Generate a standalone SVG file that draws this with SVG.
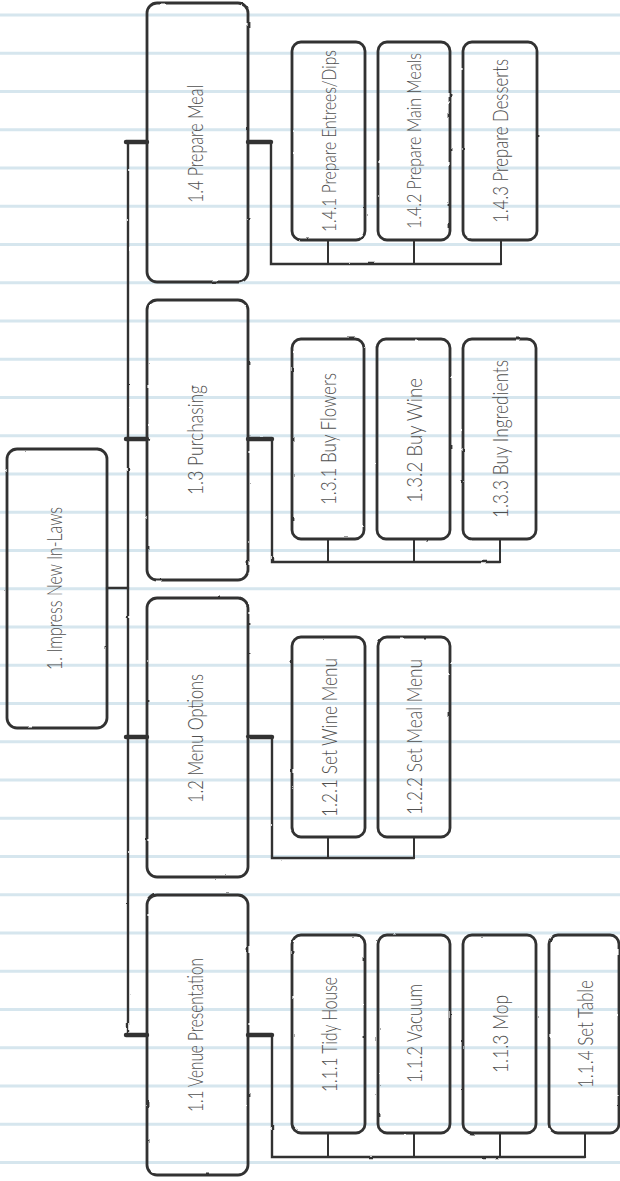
<svg xmlns="http://www.w3.org/2000/svg" width="620" height="1181" viewBox="0 0 620 1181">
  <defs>
    <!-- pencil-like wobble for outlines and connectors -->
    <filter id="rough" x="-5%" y="-5%" width="110%" height="110%">
      <feTurbulence type="fractalNoise" baseFrequency="0.09" numOctaves="2" seed="3" result="n"/>
      <feDisplacementMap in="SourceGraphic" in2="n" scale="1.8" xChannelSelector="R" yChannelSelector="G"/>
    </filter>
    <style>
      .ruled line { stroke: #d6e6ee; stroke-width: 3; }
      .box { fill: none; stroke: #333; stroke-width: 2.8; }
      .lbl { font-family: Lato, "Liberation Sans", sans-serif; font-weight: 300; font-size: 22px; fill: #505050; text-anchor: middle; }
      .lbl.long { font-size: 19px; }
      .bus { fill: none; stroke: #333; stroke-width: 2.4; stroke-linecap: round; }
      .stub { fill: none; stroke: #333; stroke-width: 4.4; stroke-linecap: round; }
      .drop { fill: none; stroke: #333; stroke-width: 2; }
    </style>
  </defs>

  <rect width="620" height="1181" fill="#fff"/>

  <!-- ruled paper -->
  <g class="ruled">
    <line x1="0" y1="15" x2="620" y2="15"/>
    <line x1="0" y1="53.25" x2="620" y2="53.25"/>
    <line x1="0" y1="91.5" x2="620" y2="91.5"/>
    <line x1="0" y1="129.75" x2="620" y2="129.75"/>
    <line x1="0" y1="168" x2="620" y2="168"/>
    <line x1="0" y1="206.25" x2="620" y2="206.25"/>
    <line x1="0" y1="244.5" x2="620" y2="244.5"/>
    <line x1="0" y1="282.75" x2="620" y2="282.75"/>
    <line x1="0" y1="321" x2="620" y2="321"/>
    <line x1="0" y1="359.25" x2="620" y2="359.25"/>
    <line x1="0" y1="397.5" x2="620" y2="397.5"/>
    <line x1="0" y1="435.75" x2="620" y2="435.75"/>
    <line x1="0" y1="474" x2="620" y2="474"/>
    <line x1="0" y1="512.25" x2="620" y2="512.25"/>
    <line x1="0" y1="550.5" x2="620" y2="550.5"/>
    <line x1="0" y1="588.75" x2="620" y2="588.75"/>
    <line x1="0" y1="627" x2="620" y2="627"/>
    <line x1="0" y1="665.25" x2="620" y2="665.25"/>
    <line x1="0" y1="703.5" x2="620" y2="703.5"/>
    <line x1="0" y1="741.75" x2="620" y2="741.75"/>
    <line x1="0" y1="780" x2="620" y2="780"/>
    <line x1="0" y1="818.25" x2="620" y2="818.25"/>
    <line x1="0" y1="856.5" x2="620" y2="856.5"/>
    <line x1="0" y1="894.75" x2="620" y2="894.75"/>
    <line x1="0" y1="933" x2="620" y2="933"/>
    <line x1="0" y1="971.25" x2="620" y2="971.25"/>
    <line x1="0" y1="1009.5" x2="620" y2="1009.5"/>
    <line x1="0" y1="1047.75" x2="620" y2="1047.75"/>
    <line x1="0" y1="1086" x2="620" y2="1086"/>
    <line x1="0" y1="1124.25" x2="620" y2="1124.25"/>
    <line x1="0" y1="1162.5" x2="620" y2="1162.5"/>
  </g>

  <!-- connectors -->
  <g id="connectors" filter="url(#rough)">
    <!-- root to spine -->
    <path class="bus" d="M107 588 H128"/>
    <path class="bus" d="M128 142 V1035"/>
    <path class="stub" d="M126 142 H147 M126 439 H147 M126 737 H147 M126 1035 H147"/>
    <!-- 1.4 children -->
    <path class="stub" d="M248 142 H271"/>
    <path class="bus" d="M271 142 V264 H501"/>
    <path class="drop" d="M328 240 V264 M414 240 V264 M501 240 V264"/>
    <!-- 1.3 children -->
    <path class="stub" d="M248 439 H272"/>
    <path class="bus" d="M272 439 V562 H500"/>
    <path class="drop" d="M328 539 V562 M414 539 V562 M500 539 V562"/>
    <!-- 1.2 children -->
    <path class="stub" d="M248 737 H272"/>
    <path class="bus" d="M272 737 V858 H414"/>
    <path class="drop" d="M328 837 V858 M414 837 V858"/>
    <!-- 1.1 children -->
    <path class="stub" d="M248 1035 H272"/>
    <path class="bus" d="M272 1035 V1157 H585"/>
    <path class="drop" d="M328 1133 V1157 M414 1133 V1157 M500 1133 V1157 M585 1133 V1157"/>
  </g>

  <!-- root -->
  <g id="n1">
    <rect class="box" x="7" y="449" width="100" height="279" rx="10" filter="url(#rough)"/>
    <text class="lbl" transform="translate(57 588.5) rotate(-90)" y="5" textLength="163" lengthAdjust="spacingAndGlyphs">1.  Impress New In-Laws</text>
  </g>

  <!-- level 1 -->
  <g id="n1-4">
    <rect class="box" x="147" y="3" width="101" height="279" rx="10" filter="url(#rough)"/>
    <text class="lbl" transform="translate(197.5 144) rotate(-90)" y="5.5" textLength="118" lengthAdjust="spacingAndGlyphs">1.4 Prepare Meal</text>
  </g>
  <g id="n1-3">
    <rect class="box" x="147" y="300" width="101" height="280" rx="10" filter="url(#rough)"/>
    <text class="lbl" transform="translate(197.5 440) rotate(-90)" y="5.5" textLength="110" lengthAdjust="spacingAndGlyphs">1.3 Purchasing</text>
  </g>
  <g id="n1-2">
    <rect class="box" x="147" y="598" width="101" height="279" rx="10" filter="url(#rough)"/>
    <text class="lbl" transform="translate(197.5 738.5) rotate(-90)" y="5.5" textLength="129" lengthAdjust="spacingAndGlyphs">1.2 Menu Options</text>
  </g>
  <g id="n1-1">
    <rect class="box" x="147" y="895" width="101" height="280" rx="10" filter="url(#rough)"/>
    <text class="lbl" transform="translate(197.5 1035) rotate(-90)" y="5.5" textLength="154" lengthAdjust="spacingAndGlyphs">1.1 Venue Presentation</text>
  </g>

  <!-- 1.4 work packages -->
  <g id="n1-4-1">
    <rect class="box" x="292" y="42" width="73" height="198" rx="9" filter="url(#rough)"/>
    <text class="lbl long" transform="translate(328.5 141) rotate(-90)" y="7" textLength="182" lengthAdjust="spacingAndGlyphs">1.4.1 Prepare Entrees/Dips</text>
  </g>
  <g id="n1-4-2">
    <rect class="box" x="378" y="42" width="72" height="198" rx="9" filter="url(#rough)"/>
    <text class="lbl long" transform="translate(414 141) rotate(-90)" y="7" textLength="176" lengthAdjust="spacingAndGlyphs">1.4.2 Prepare Main Meals</text>
  </g>
  <g id="n1-4-3">
    <rect class="box" x="463" y="42" width="74" height="198" rx="9" filter="url(#rough)"/>
    <text class="lbl" transform="translate(500 141) rotate(-90)" y="8" textLength="164" lengthAdjust="spacingAndGlyphs">1.4.3 Prepare Desserts</text>
  </g>

  <!-- 1.3 work packages -->
  <g id="n1-3-1">
    <rect class="box" x="292" y="339" width="72" height="200" rx="9" filter="url(#rough)"/>
    <text class="lbl" transform="translate(328 439) rotate(-90)" y="8" textLength="132" lengthAdjust="spacingAndGlyphs">1.3.1 Buy Flowers</text>
  </g>
  <g id="n1-3-2">
    <rect class="box" x="377" y="339" width="73" height="200" rx="9" filter="url(#rough)"/>
    <text class="lbl" transform="translate(413.5 440.5) rotate(-90)" y="8" textLength="125" lengthAdjust="spacingAndGlyphs">1.3.2 Buy Wine</text>
  </g>
  <g id="n1-3-3">
    <rect class="box" x="463" y="339" width="73" height="200" rx="9" filter="url(#rough)"/>
    <text class="lbl" transform="translate(499.5 439) rotate(-90)" y="8" textLength="158" lengthAdjust="spacingAndGlyphs">1.3.3 Buy Ingredients</text>
  </g>

  <!-- 1.2 work packages -->
  <g id="n1-2-1">
    <rect class="box" x="292" y="637" width="73" height="200" rx="9" filter="url(#rough)"/>
    <text class="lbl" transform="translate(328.5 737.5) rotate(-90)" y="8" textLength="159" lengthAdjust="spacingAndGlyphs">1.2.1 Set Wine Menu</text>
  </g>
  <g id="n1-2-2">
    <rect class="box" x="378" y="637" width="72" height="200" rx="9" filter="url(#rough)"/>
    <text class="lbl" transform="translate(414 737) rotate(-90)" y="8" textLength="156" lengthAdjust="spacingAndGlyphs">1.2.2 Set Meal Menu</text>
  </g>

  <!-- 1.1 work packages -->
  <g id="n1-1-1">
    <rect class="box" x="292" y="935" width="73" height="198" rx="9" filter="url(#rough)"/>
    <text class="lbl" transform="translate(328.5 1034.5) rotate(-90)" y="8" textLength="115" lengthAdjust="spacingAndGlyphs">1.1.1 Tidy House</text>
  </g>
  <g id="n1-1-2">
    <rect class="box" x="378" y="935" width="72" height="198" rx="9" filter="url(#rough)"/>
    <text class="lbl" transform="translate(414 1033.5) rotate(-90)" y="8" textLength="99" lengthAdjust="spacingAndGlyphs">1.1.2 Vacuum</text>
  </g>
  <g id="n1-1-3">
    <rect class="box" x="463" y="935" width="73" height="198" rx="9" filter="url(#rough)"/>
    <text class="lbl" transform="translate(499.5 1034) rotate(-90)" y="8" textLength="78" lengthAdjust="spacingAndGlyphs">1.1.3 Mop</text>
  </g>
  <g id="n1-1-4">
    <rect class="box" x="549" y="935" width="70" height="198" rx="9" filter="url(#rough)"/>
    <text class="lbl" transform="translate(585 1034) rotate(-90)" y="8" textLength="108" lengthAdjust="spacingAndGlyphs">1.1.4 Set Table</text>
  </g>
</svg>
